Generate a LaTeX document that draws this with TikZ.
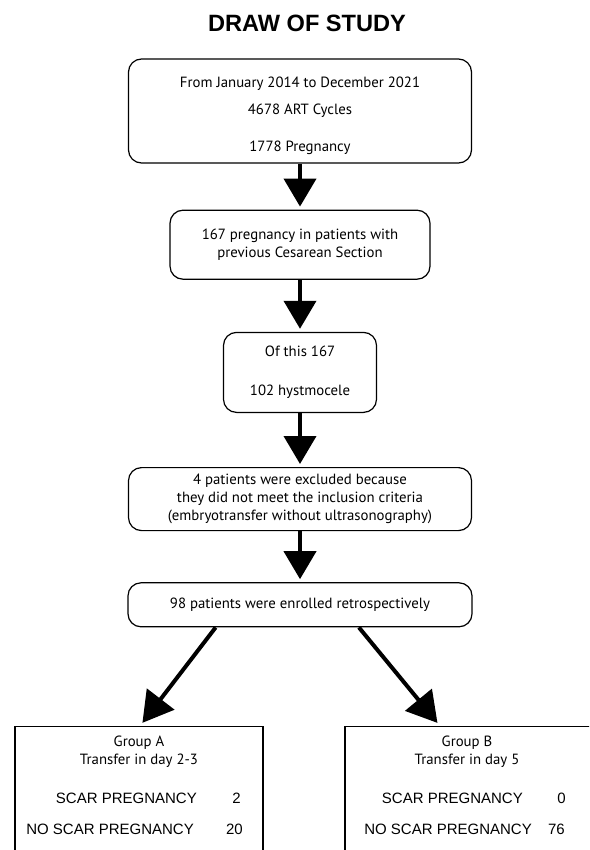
\documentclass[tikz,border=0pt]{standalone}
\usepackage{fontspec}
\setmainfont{PT Sans}
\newfontfamily\arialfont{Liberation Sans}
\usetikzlibrary{positioning,arrows.meta}

\begin{document}
\begin{tikzpicture}[x=1pt, y=-1pt, font=\fontsize{14.8}{18}\selectfont,
    box/.style = {draw, line width=1.2pt, rounded corners=13pt, align=center, inner sep=0pt},
    grp/.style = {draw, line width=1.2pt, anchor=north, minimum width=248pt, minimum height=160pt},
    arr/.style = {line width=4pt, -{Triangle[width=32pt, length=28pt]}, shorten >=3pt},
    darr/.style = {line width=4pt, -{Triangle[width=34pt, length=30pt]}, shorten >=4pt},
    row/.style = {anchor=east, inner sep=0pt, font=\arialfont\fontsize{15}{18}\selectfont}]
    \useasboundingbox (0,0) rectangle (589,850);
    \clip (0,0) rectangle (589,850);
    \node[font=\arialfont\bfseries\fontsize{23.6}{28}\selectfont] (title) at (307,23.5) {DRAW OF STUDY};
    \node[box, minimum width=343pt, minimum height=104pt] (1) at (300,111)
        {\raisebox{-4.5pt}[\height][\depth]{\begin{tabular}{@{}c@{}}From January 2014 to December 2021\\[9pt]4678 ART Cycles\\[19pt]1778 Pregnancy\end{tabular}}};
    \node[box, minimum width=260pt, minimum height=69pt] (2) [below=46pt of 1] {167 pregnancy in patients with\\previous Cesarean Section};
    \node[box, minimum width=153pt, minimum height=80pt] (3) [below=52pt of 2] {Of this 167\\[21pt]102 hystmocele};
    \node[box, minimum width=343pt, minimum height=63pt] (4) [below=54pt of 3] {4 patients were excluded because\\they did not meet the inclusion criteria\\(embryotransfer without ultrasonography)};
    \node[box, minimum width=344pt, minimum height=44pt] (5) [below=51pt of 4] {98 patients were enrolled retrospectively};
    \draw[arr] (1) -- (2);
    \draw[arr] (2) -- (3);
    \draw[arr] (3) -- (4);
    \draw[arr] (4) -- (5);
    % the two groups
    \node[grp] (A) at (139,726) {};
    \node[grp] (B) at (469,726) {};
    \node[align=center] (hA) at (139,752) {Group A\\Transfer in day 2-3};
    \node[align=center] (hB) at (467,752) {Group B\\Transfer in day 5};
    \node[row] (sA) at (197,798) {SCAR PREGNANCY};
    \node[row] (nA) at (194,829) {NO SCAR PREGNANCY};
    \node[row] (sAn) at (241,798) {2};
    \node[row] (nAn) at (243,829) {20};
    \node[row] (sB) at (523,798) {SCAR PREGNANCY};
    \node[row] (nB) at (532,829) {NO SCAR PREGNANCY};
    \node[row] (sBn) at (566,798) {0};
    \node[row] (nBn) at (565,829) {76};
    \draw[darr] (5.195) -- ([xshift=1pt]A.north);
    \draw[darr] (5.339) -- ([xshift=-29pt]B.north);
\end{tikzpicture}
\end{document}
